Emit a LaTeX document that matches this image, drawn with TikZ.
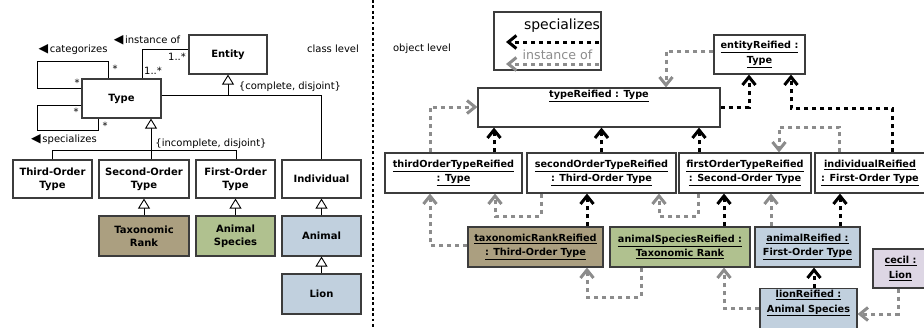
\documentclass[tikz,border=0pt]{standalone}
\usepackage{fontspec}
\setmainfont{DejaVu Sans}
\usetikzlibrary{arrows.meta}
\definecolor{brownf}{RGB}{171,159,128}
\definecolor{greenf}{RGB}{176,193,143}
\definecolor{bluef}{RGB}{193,208,222}
\definecolor{lavf}{RGB}{221,214,228}
\definecolor{grayar}{RGB}{140,140,140}
\definecolor{boxln}{RGB}{60,60,60}
\newcommand{\ltri}{{\fontsize{12.5}{12}\selectfont ◀}}
\begin{document}
\begin{tikzpicture}[x=1pt,y=-1pt,
 box/.style={draw=boxln,line width=1.2pt,fill=white,inner sep=1pt,align=center,font=\fontsize{10}{13}\selectfont\bfseries},
 obj/.style={box,font=\fontsize{9.7}{14.5}\selectfont\bfseries},
 objlbl/.style={inner sep=0pt,align=center,font=\fontsize{9.7}{14.5}\selectfont\bfseries},
 gen/.style={draw=black,line width=0.9pt,-{Triangle[open,length=10pt,width=12pt,fill=white]}},
 assoc/.style={draw=black,line width=0.9pt},
 spec/.style={draw=black,line width=3pt,dash pattern=on 4.5pt off 3.5pt,-{Straight Barb[length=8pt,width=13pt,line width=3pt]}},
 inst/.style={spec,draw=grayar},
 lbl/.style={font=\fontsize{10}{12}\selectfont,inner sep=0pt},
]
\useasboundingbox (0,0) rectangle (924,327);
\fill[white] (0,0) rectangle (924,327);

% ---------------- class level ----------------
\node[box,minimum width=78pt,minimum height=39pt] (entity) at (228,54.5) {Entity};
\node[box,minimum width=79pt,minimum height=39pt] (type) at (121.5,98.5) {Type};
\node[box,minimum width=79pt,minimum height=38pt] (third) at (52.5,179) {Third-Order\\Type};
\node[box,minimum width=90pt,minimum height=38pt] (second) at (144,179) {Second-Order\\Type};
\node[box,minimum width=79pt,minimum height=38pt] (first) at (235.5,179) {First-Order\\Type};
\node[box,minimum width=79pt,minimum height=38pt] (indiv) at (321.5,179) {Individual};
\node[box,fill=brownf,minimum width=90pt,minimum height=40pt] (taxo) at (144,236) {Taxonomic\\Rank};
\node[box,fill=greenf,minimum width=79pt,minimum height=40pt] (animsp) at (235.5,236) {Animal\\Species};
\node[box,fill=bluef,minimum width=79pt,minimum height=40pt] (animal) at (321.5,236) {Animal};
\node[box,fill=bluef,minimum width=79pt,minimum height=40pt] (lion) at (321.5,294) {Lion};

% associations
\draw[assoc] (type.west |- 0,88) -- (37,88) -- (37,61) -- (108,61) -- (type.north -| 108,0);
\draw[assoc] (type.west |- 0,105) -- (37,105) -- (37,130) -- (98,130) -- (type.south -| 98,0);
\draw[assoc] (type.north -| 142,0) -- (142,49) -- (entity.west |- 0,49);
\node[lbl] (catLbl) at (73,50) {\ltri\,categorizes};
\node[lbl] (specLbl) at (64,140) {\ltri\,specializes};
\node[lbl] (instLbl) at (147,40) {\ltri\,instance of};
\node[lbl] (m1) at (115,69) {*};
\node[lbl] (m2) at (77,83) {*};
\node[lbl] (m3) at (76,112) {*};
\node[lbl] (m4) at (105,126) {*};
\node[lbl] (m5) at (177,57) {1..*};
\node[lbl] (m6) at (153,71) {1..*};

% generalizations
\draw[assoc] (third.north -| 52,0) -- (52,150) -- (236,150) -- (first.north -| 236,0);
\draw[gen] (second.north -| 151,0) -- (type.south -| 151,0);
\node[lbl] (incLbl) at (211,144) {\{incomplete, disjoint\}};
\draw[assoc] (type.east |- 0,95) -- (indiv.north |- 0,95) -- (indiv.north);
\draw[gen] (entity.south |- 0,95) -- (entity.south);
\node[lbl] (compLbl) at (290,87) {\{complete, disjoint\}};
\draw[gen] (taxo.north) -- (second.south);
\draw[gen] (animsp.north) -- (first.south);
\draw[gen] (animal.north) -- (indiv.south);
\draw[gen] (lion.north) -- (animal.south);

% separator
\node[lbl] (classLvl) at (333,49) {class level};
\node[lbl] (objLvl) at (422,49) {object level};
\coordinate (sepTop) at (373,0);
\coordinate (sepBot) at (373,327);
\draw[line width=2.8pt,dash pattern=on 2.8pt off 2.6pt] (sepTop) -- (sepBot);

% ---------------- legend ----------------
\node[draw=boxln,line width=1.2pt,minimum width=107pt,minimum height=58pt] (legend) at (547.5,41) {};
\node[inner sep=0pt,font=\fontsize{14}{14}\selectfont] (legSpec) at (562,26) {specializes};
\node[inner sep=0pt,font=\fontsize{12.6}{14}\selectfont,text=grayar] (legInst) at (557.5,54.5) {instance of};
\coordinate (lsA) at (599,42);
\coordinate (lsB) at (506,42);
\coordinate (liA) at (599,64);
\coordinate (liB) at (506,64);
\draw[spec] (lsA) -- (lsB);
\draw[inst] (liA) -- (liB);

% ---------------- object level ----------------
\node[box,minimum width=242pt,minimum height=39pt,
  label={[objlbl,anchor=north,yshift=-3pt]north:\underline{typeReified : Type}}] (typeR) at (599,107.5) {};
\node[obj,minimum width=91pt,minimum height=39pt] (entityR) at (759.5,54.5) {\underline{entityReified :}\\\underline{Type}};
\node[obj,minimum width=137pt,minimum height=40pt] (thirdR) at (453.5,173) {\underline{thirdOrderTypeReified}\\\underline{: Type}};
\node[obj,minimum width=149pt,minimum height=40pt] (secondR) at (601.5,173) {\underline{secondOrderTypeReified}\\\underline{: Third-Order Type}};
\node[obj,minimum width=132pt,minimum height=40pt] (firstR) at (745,173) {\underline{firstOrderTypeReified}\\\underline{: Second-Order Type}};
\node[obj,minimum width=110pt,minimum height=40pt] (indivR) at (870,173) {\underline{individualReified}\\\underline{: First-Order Type}};
\node[obj,fill=brownf,minimum width=135pt,minimum height=40pt] (taxR) at (535.5,247) {\underline{taxonomicRankReified}\\\underline{: Third-Order Type}};
\node[obj,fill=greenf,minimum width=140pt,minimum height=40pt] (animspR) at (680,247) {\underline{animalSpeciesReified :}\\\underline{Taxonomic Rank}};
\node[obj,fill=bluef,minimum width=105pt,minimum height=40pt] (animalR) at (807.5,247) {\underline{animalReified :}\\\underline{First-Order Type}};
\node[obj,fill=lavf,minimum width=55pt,minimum height=39pt] (cecil) at (900.5,268.5) {\underline{cecil :}\\\underline{Lion}};
\node[box,fill=bluef,minimum width=97pt,minimum height=44pt,anchor=north,
  label={[objlbl,anchor=north,yshift=-2pt]north:\underline{lionReified :}\\\underline{Animal Species}}] (lionR) at (808.5,288) {};

% object arrows
\draw[inst] (entityR.west |- 0,51) -- (666,51) -- (typeR.north -| 666,0);
\draw[spec] (typeR.east |- 0,107) -- (749,107) -- (entityR.south -| 749,0);
\draw[spec] (indivR.north -| 892,0) -- (892,108) -- (791,108) -- (entityR.south -| 791,0);
\draw[spec] (thirdR.north -| 494,0) -- (typeR.south -| 494,0);
\draw[inst] (thirdR.north -| 430,0) -- (430,107) -- (typeR.west |- 0,107);
\draw[spec] (secondR.north) -- (typeR.south -| secondR.north);
\draw[spec] (firstR.north -| 699,0) -- (typeR.south -| 699,0);
\draw[inst] (indivR.north -| 839,0) -- (839,127) -- (779,127) -- (firstR.north -| 779,0);
\draw[spec] (taxR.north -| 587,0) -- (secondR.south -| 587,0);
\draw[inst] (taxR.west |- 0,245) -- (430,245) -- (thirdR.south -| 430,0);
\draw[inst] (secondR.south -| 541,0) -- (541,216) -- (495,216) -- (thirdR.south -| 495,0);
\draw[spec] (animspR.north -| 724,0) -- (firstR.south -| 724,0);
\draw[inst] (firstR.south -| 698,0) -- (698,216) -- (659,216) -- (secondR.south -| 659,0);
\draw[inst] (animspR.south -| 641,0) -- (641,297) -- (587,297) -- (taxR.south -| 587,0);
\draw[spec] (animalR.north -| 840,0) -- (indivR.south -| 840,0);
\draw[inst] (animalR.north -| 771,0) -- (firstR.south -| 771,0);
\draw[spec] (lionR.north -| 814,0) -- (animalR.south -| 814,0);
\draw[inst] (lionR.west |- 0,308) -- (724,308) -- (animspR.south -| 724,0);
\draw[inst] (cecil.south -| 898,0) -- (898,314) -- (lionR.east |- 0,314);
\end{tikzpicture}
\end{document}
